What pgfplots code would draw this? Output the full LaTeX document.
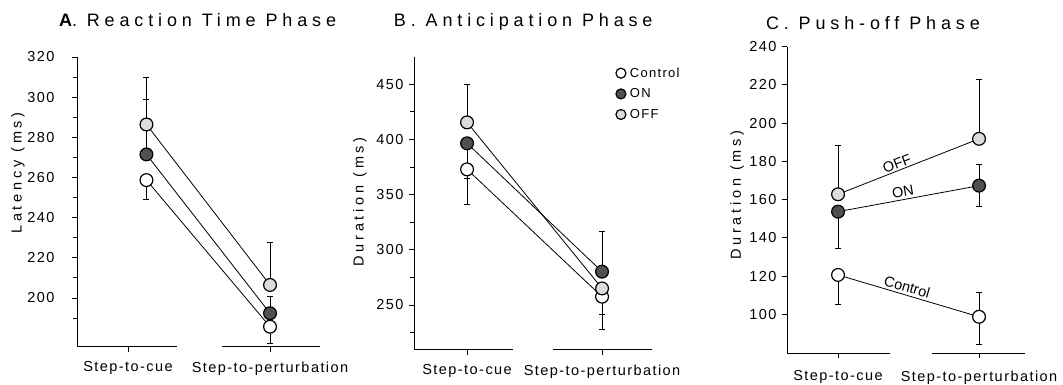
\documentclass[border=0pt]{standalone}
\usepackage{fontspec}
\setmainfont{Liberation Sans}
\newfontfamily\tickfont[LetterSpace=10]{Liberation Sans}
\newfontfamily\labelfont[LetterSpace=26]{Liberation Sans}
\newfontfamily\titlefont[LetterSpace=27]{Liberation Sans}
\newfontfamily\legendfont[LetterSpace=10]{Liberation Sans}
\usepackage{pgfplots}
\pgfplotsset{compat=1.18}

\definecolor{onfill}{HTML}{505050}
\definecolor{offfill}{HTML}{DCDCDC}

\tikzset{linelabel/.style={font=\fontsize{14.5}{16}\selectfont, inner sep=1pt}}

\pgfplotsset{
  every axis title shift=0pt,
  phase/.style={
    scale only axis, anchor=south west, clip=false,
    axis y line*=left, axis x line*=bottom,
    axis line style={-, line width=1pt},
    x axis line style={draw=none},
    tick align=outside, major tick length=5pt, minor tick length=4pt,
    every tick/.style={black, line width=0.9pt},
    xtick={0,1}, xticklabels={Step-to-cue, Step-to-perturbation},
    /pgf/number format/assume math mode=true,
    tick label style={font=\tickfont\fontsize{14.5}{16}\selectfont},
    yticklabel style={/pgf/number format/1000 sep={}, xshift=-2pt},
    xticklabel style={yshift=-6pt},
    label style={font=\labelfont\fontsize{14.5}{17}\selectfont},
    title style={font=\titlefont\fontsize{18}{21}\selectfont, anchor=center},
    legend style={draw=none, fill=none, font=\legendfont\fontsize{13}{15}\selectfont,
      row sep=10pt, cells={anchor=west}, nodes={inner xsep=4pt, inner ysep=0pt}},
    legend cell align=left,
    legend image code/.code={\draw[#1, mark size=5pt] plot coordinates {(0pt,0pt)};},
  },
  ebar/.style={only marks, mark=none, forget plot,
    error bars/.cd, y dir=#1, y explicit,
    error bar style={draw=black, solid, line width=0.9pt},
    error mark options={draw=black, rotate=90, mark size=3pt, line width=0.9pt}},
  link/.style={black, line width=0.8pt},
  ctrl/.style={link, mark=*, mark size=6.4pt, mark options={draw=black, fill=white, line width=1.2pt}},
  on/.style={link, mark=*, mark size=6.4pt, mark options={draw=black, fill=onfill, line width=1.2pt}},
  off/.style={link, mark=*, mark size=6.4pt, mark options={draw=black, fill=offfill, line width=1.2pt}},
}

\begin{document}
\begin{tikzpicture}
\useasboundingbox (0,0) rectangle (1063pt,385pt);

% ---------------- A. Reaction time phase ----------------
\begin{axis}[phase, at={(77pt,38pt)}, width=243pt, height=290pt,
  xmin=-0.359, xmax=1.352, ymin=175.6, ymax=320,
  ytick={200,220,...,320}, minor ytick={190,210,...,310},
  yticklabel style={xshift=-12pt},
  ylabel={Latency (ms)},
  ylabel style={at={(axis description cs:-0.243,0.6)}, anchor=center},
  title={\textbf{A}. Reaction Time Phase},
  title style={at={(axis description cs:0.496,1.128)}}]
  \draw[line width=1pt] (axis cs:-0.359,175.6) -- (axis cs:0.345,175.6);
  \draw[line width=1pt] (axis cs:0.662,175.6) -- (axis cs:1.352,175.6);
  \addplot[ebar=plus] coordinates {
    (0.13,286.4) +- (0,23.2)
    (0.13,271.5) +- (0,27.5)
    (1,206.5) +- (0,21.0)
    (1,192.4) +- (0,8.6)};
  \addplot[ebar=minus] coordinates {
    (0.13,258.7) +- (0,9.7)
    (1,185.7) +- (0,8.2)};
  \addplot[ctrl] coordinates {(0.13,258.7) (1,185.7)};
  \addplot[on]   coordinates {(0.13,271.5) (1,192.4)};
  \addplot[off]  coordinates {(0.13,286.4) (1,206.5)};
\end{axis}

% ---------------- B. Anticipation phase ----------------
\begin{axis}[phase, at={(414pt,35pt)}, width=238pt, height=293.3pt,
  xmin=-0.393, xmax=1.37, ymin=209.2, ymax=475,
  ytick={250,300,...,450}, minor ytick={225,275,...,425},
  ylabel={Duration (ms)},
  ylabel style={at={(axis description cs:-0.227,0.505)}, anchor=center},
  title={B. Anticipation Phase},
  title style={at={(axis description cs:0.459,1.118)}},
  legend style={at={(axis description cs:0.835,0.97)}, anchor=north west}]
  \draw[line width=1pt] (axis cs:-0.393,209.2) -- (axis cs:0.341,209.2);
  \draw[line width=1pt] (axis cs:0.637,209.2) -- (axis cs:1.37,209.2);
  \addplot[ebar=plus] coordinates {
    (0,415.5) +- (0,34.5)
    (1,280.2) +- (0,36.8)};
  \addplot[ebar=minus] coordinates {
    (0,372.9) +- (0,31.4)
    (0,396.5) +- (0,31.7)
    (1,257.5) +- (0,29.5)
    (1,265.0) +- (0,24.0)};
  \addplot[ctrl] coordinates {(0,372.9) (1,257.5)};
  \addplot[on]   coordinates {(0,396.5) (1,280.2)};
  \addplot[off]  coordinates {(0,415.5) (1,265.0)};
  \legend{Control, ON, OFF}
\end{axis}

% ---------------- C. Push-off phase ----------------
\begin{axis}[phase, at={(787pt,31.7pt)}, width=238pt, height=306.6pt,
  xmin=-0.362, xmax=1.326, ymin=79.6, ymax=240,
  ytick={100,120,...,240},
  xticklabel style={yshift=-3pt},
  ylabel={Duration (ms)},
  ylabel style={at={(axis description cs:-0.21,0.516)}, anchor=center},
  title={C. Push-off Phase},
  title style={at={(axis description cs:0.361,1.077)}}]
  \draw[line width=1pt] (axis cs:-0.362,79.6) -- (axis cs:0.369,79.6);
  \draw[line width=1pt] (axis cs:0.667,79.6) -- (axis cs:1.326,79.6);
  \addplot[ebar=plus] coordinates {
    (0,162.8) +- (0,25.5)
    (1,191.8) +- (0,31.2)
    (1,167.3) +- (0,10.9)
    (1,98.7) +- (0,12.8)};
  \addplot[ebar=minus] coordinates {
    (0,153.7) +- (0,19.2)
    (0,120.6) +- (0,15.7)
    (1,167.3) +- (0,11.0)
    (1,98.7) +- (0,14.4)};
  \addplot[ctrl] coordinates {(0,120.6) (1,98.7)};
  \addplot[on]   coordinates {(0,153.7) (1,167.3)};
  \addplot[off]  coordinates {(0,162.8) (1,191.8)};
  \node[linelabel, rotate=21] at (axis cs:0.418,178.6) {OFF};
  \node[linelabel, rotate=10] at (axis cs:0.46,164.0) {ON};
  \node[linelabel, rotate=-16] at (axis cs:0.49,114.4) {Control};
\end{axis}
\end{tikzpicture}
\end{document}
